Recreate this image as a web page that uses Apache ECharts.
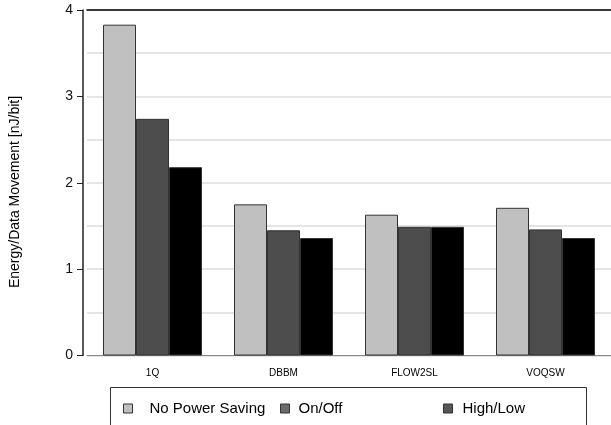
<!DOCTYPE html>
<html><head><meta charset="utf-8">
<script src="https://cdn.jsdelivr.net/npm/echarts@6/dist/echarts.min.js"></script>
<style>html,body{margin:0;padding:0;background:#fff}#c{width:611px;height:425px}</style>
</head><body><div id="c"></div>
<script>
const categories = ['1Q', 'DBBM', 'FLOW2SL', 'VOQSW'];
const noPowerSaving = [3.83, 1.75, 1.63, 1.71];
const onOff = [2.74, 1.45, 1.49, 1.46];
const highLow = [2.18, 1.36, 1.49, 1.36];
const seriesNames = ['No Power Saving', 'On/Off', 'High/Low'];
const yTicks = [0, 1, 2, 3, 4];
const yName = 'Energy/Data Movement [nJ/bit]';

const colors = ['#c0c0c0', '#4d4d4d', '#000000'];
const legendColors = ['#c0c0c0', '#6a6a6a', '#555555'];
const chart = echarts.init(document.getElementById('c'), null, {renderer: 'canvas'});
const font = 'Liberation Sans, Arial, sans-serif';
const legendLefts = [123, 280, 443];
const legendPads = [[0, 0, 0, 12], [0, 0, 0, 4], [0, 0, 0, 5]];
chart.setOption({
  animation: false,
  grid: {left: 87, top: 10, width: 524, height: 345.5},
  xAxis: [{
    type: 'category', data: categories,
    axisLine: {lineStyle: {color: '#888', width: 1}},
    axisTick: {show: false},
    axisLabel: {color: '#000', fontSize: 10, fontFamily: font, margin: 13}
  }, {
    type: 'category', data: categories, position: 'top',
    axisLine: {lineStyle: {color: '#000', width: 1.5}},
    axisTick: {show: false}, axisLabel: {show: false}
  }],
  yAxis: {
    type: 'value', min: yTicks[0], max: yTicks[yTicks.length - 1], interval: 1, offset: 4,
    axisLine: {show: true, lineStyle: {color: '#222', width: 1.5}},
    axisTick: {show: true, length: 6, lineStyle: {color: '#222'}},
    axisLabel: {color: '#111', fontSize: 14, fontFamily: font, margin: 10},
    splitLine: {lineStyle: {color: '#dcdcdc', width: 1.5}},
    minorTick: {show: false, splitNumber: 2},
    minorSplitLine: {show: true, lineStyle: {color: '#dcdcdc', width: 1.5}}
  },
  legend: legendLefts.map((l, i) => ({
    left: l, top: 401, padding: 0, itemWidth: 9, itemHeight: 9, icon: 'rect',
    data: [{name: seriesNames[i], itemStyle: {color: legendColors[i], borderColor: '#333', borderWidth: 1}}],
    textStyle: {fontSize: 15, fontFamily: font, color: '#000', padding: legendPads[i]},
    selectedMode: false
  })),
  graphic: [
    {type: 'rect', shape: {x: 110.5, y: 387.5, width: 476, height: 60}, style: {fill: 'none', stroke: '#333', lineWidth: 1}},
    {type: 'text', x: 15, y: 192, rotation: Math.PI / 2,
     style: {text: yName, fontSize: 14, fontFamily: font, fill: '#000', textAlign: 'center', textVerticalAlign: 'middle'}}
  ],
  series: [noPowerSaving, onOff, highLow].map((d, i) => ({
    type: 'bar', name: seriesNames[i], data: d, barWidth: 33, barGap: '0%',
    itemStyle: {color: colors[i], borderColor: '#333', borderWidth: 1}
  }))
});
</script></body></html>
